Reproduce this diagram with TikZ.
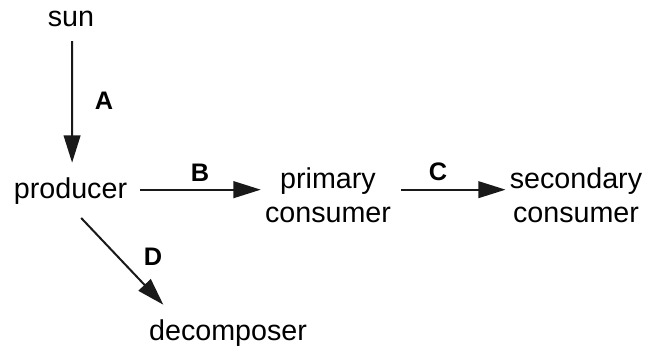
\documentclass[tikz,border=0pt]{standalone}
\usepackage{fontspec}
\setmainfont{Liberation Sans}
\usetikzlibrary{arrows.meta}
\begin{document}
\begin{tikzpicture}[x=0.75pt,y=-0.75pt,
  txt/.style={inner sep=0pt,font=\fontsize{21.5}{25.5}\selectfont,align=center},
  lbl/.style={inner sep=0pt,font=\fontsize{19}{21}\selectfont\bfseries},
  arr/.style={line width=1.5pt,-{Triangle[length=20.5pt,width=12.5pt]},color=black!90}]
\useasboundingbox (0,0) rectangle (647,351);
\node[txt] (sun) at (71,19) {sun};
\node[txt] (producer) at (70.5,191) {producer};
\node[txt] (pc) at (328,195.5) {primary\\consumer};
\node[txt] (sc) at (576,195.5) {secondary\\consumer};
\node[txt] (dec) at (228,333) {decomposer};
\node[lbl] (la) at (104,101) {A};
\node[lbl] (lb) at (200,173) {B};
\node[lbl] (lc) at (438,172) {C};
\node[lbl] (ld) at (153,257) {D};
\draw[arr] ([xshift=0.75pt,yshift=-10.5pt]sun.south) -- ([xshift=1.2pt,yshift=11pt]producer.north);
\draw[arr] ([xshift=9.5pt,yshift=1pt]producer.east) -- ([xshift=-3pt,yshift=1pt]producer.east -| pc.west);
\draw[arr] ([xshift=7.5pt,yshift=1pt]pc.east |- producer.east) -- ([xshift=-3pt,yshift=1pt]producer.east -| sc.west);
\draw[arr] ([xshift=8pt,yshift=-10pt]producer.south) -- ([xshift=-48.5pt,yshift=11pt]dec.north);
\end{tikzpicture}
\end{document}
